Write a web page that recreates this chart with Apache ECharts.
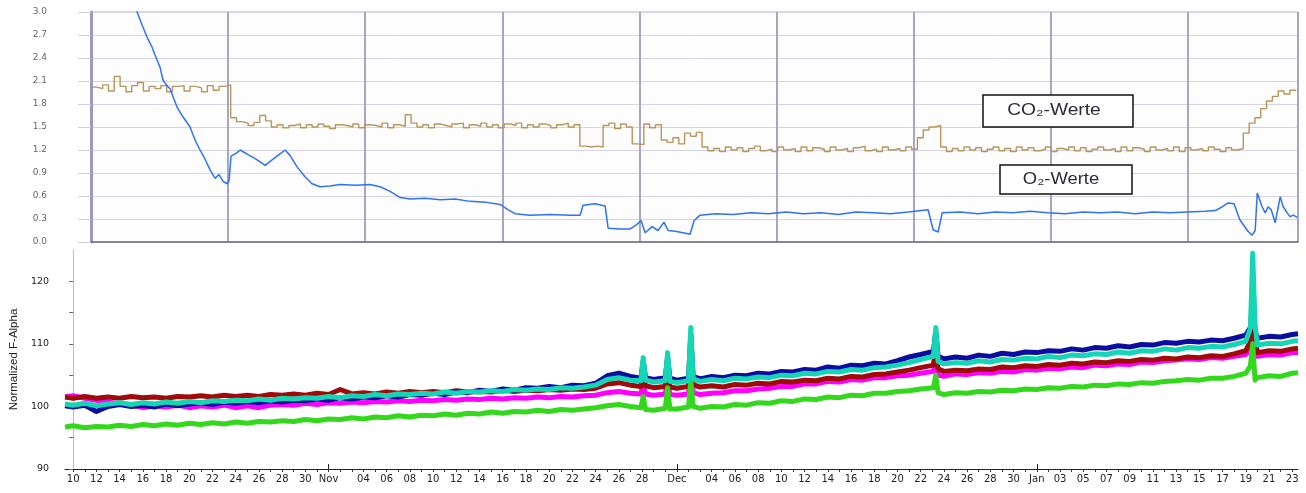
<!DOCTYPE html>
<html><head><meta charset="utf-8">
<script src="https://cdn.jsdelivr.net/npm/echarts@6/dist/echarts.min.js"></script>
<style>html,body{margin:0;padding:0;background:#fff}#c{width:1306px;height:493px}</style>
</head><body><div id="c"></div>
<script>
// ---------- bottom chart (Normalized F-Alpha), x = days since 10 Oct ----------
const days = [-0.7,
 0,1,2,3,4,5,6,7,8,9,
 10,11,12,13,14,15,16,17,18,19,
 20,21,22,23,24,25,26,27,28,29,
 30,31,32,33,34,35,36,37,38,39,
 40,41,42,43,44,45,46,47,48,
 48.9,49.1,49.3,50,51,51.2,51.4,52,53,53.2,53.4,
 54,55,56,57,58,59,60,61,62,63,64,65,66,67,68,69,70,71,72,73,
 74.1,74.3,74.5,
 75,76,77,78,79,80,81,82,83,84,85,86,87,88,89,90,91,92,93,94,95,96,97,98,99,100,101,
 101.4,101.6,101.8,
 102,103,104,105,105.5];

const navy = [100.1,
 99.9,100.2,99.2,100.0,100.3,100.0,100.2,99.9,100.4,100.1,
 100.4,100.6,100.3,100.7,100.5,100.8,100.6,100.9,100.7,101.0,
 100.9,101.2,101.0,101.4,101.2,101.5,101.4,101.7,101.5,101.9,
 101.8,102.1,101.9,102.3,102.2,102.6,102.4,102.8,102.6,103.0,
 102.9,103.2,103.0,103.4,103.3,103.7,104.9,105.3,104.8,
 104.5,107.3,104.6,104.3,104.6,107.8,104.5,104.2,104.5,111.5,104.8,
 104.4,104.8,104.6,105.0,104.9,105.3,105.2,105.6,105.5,105.9,105.8,106.3,106.1,106.6,106.5,106.9,106.8,107.3,107.9,108.3,
 108.8,112.0,108.0,
 107.6,107.9,107.7,108.2,108.0,108.5,108.3,108.7,108.6,108.9,108.8,109.2,109.0,109.4,109.3,109.7,109.5,109.9,109.8,110.2,110.1,110.4,110.3,110.6,110.5,110.9,111.4,
 112.6,117.0,112.0,
 110.9,111.2,111.1,111.5,111.6];

const teal = [100.4,
 100.2,100.5,100.1,100.4,100.6,100.3,100.6,100.4,100.7,100.5,
 100.8,100.6,100.9,100.8,101.0,100.9,101.2,101.0,101.3,101.2,
 101.4,101.3,101.6,101.4,101.7,101.6,101.9,101.7,102.0,101.9,
 102.1,102.0,102.3,102.1,102.4,102.3,102.5,102.4,102.7,102.6,
 102.8,102.7,103.0,102.9,103.1,103.4,104.3,104.6,104.2,
 104.1,107.8,104.2,103.9,104.1,108.6,104.0,103.8,104.1,112.6,104.4,
 104.0,104.3,104.1,104.5,104.4,104.7,104.6,105.0,104.9,105.3,105.2,105.6,105.5,105.9,105.8,106.2,106.3,106.6,107.0,107.5,
 108.0,112.6,107.2,
 106.8,107.0,106.9,107.3,107.1,107.5,107.4,107.7,107.6,108.0,107.8,108.2,108.1,108.4,108.3,108.7,108.5,108.9,108.8,109.2,109.0,109.4,109.3,109.6,109.5,109.9,110.4,
 112.5,124.5,113.0,
 109.8,110.1,110.0,110.4,110.5];

const red = [101.5,
 101.3,101.6,101.3,101.5,101.3,101.6,101.4,101.5,101.3,101.6,
 101.5,101.7,101.5,101.8,101.6,101.8,101.6,101.9,101.8,102.0,
 101.8,102.1,101.9,102.7,102.0,102.2,102.0,102.3,102.1,102.4,
 102.2,102.4,102.2,102.5,102.3,102.4,102.3,102.6,102.4,102.6,
 102.5,102.7,102.6,102.8,102.7,102.9,103.6,103.8,103.4,
 103.2,106.0,103.3,103.0,103.2,106.5,103.1,102.9,103.2,109.5,103.5,
 103.1,103.3,103.1,103.5,103.4,103.7,103.6,104.0,103.9,104.2,104.1,104.5,104.4,104.8,104.7,105.1,105.2,105.5,105.8,106.2,
 106.6,110.0,106.0,
 105.6,105.8,105.7,106.0,105.9,106.3,106.2,106.5,106.4,106.7,106.6,106.9,106.8,107.1,107.0,107.3,107.2,107.5,107.4,107.7,107.6,107.9,107.8,108.1,108.0,108.4,108.9,
 110.5,113.4,111.0,
 108.6,108.9,108.8,109.2,109.3];

const magenta = [101.5,
 101.7,101.3,101.0,100.7,100.4,100.2,99.8,100.1,99.9,100.2,
 99.8,100.1,99.9,100.2,99.8,100.1,99.8,100.2,100.3,100.2,
 100.5,100.3,100.6,100.5,100.7,100.6,100.8,100.7,100.9,100.8,
 101.0,100.9,101.1,101.0,101.2,101.1,101.3,101.2,101.4,101.3,
 101.5,101.4,101.6,101.5,101.7,101.8,102.2,102.4,102.1,
 102.0,103.8,102.0,101.8,102.0,104.2,101.9,101.8,102.0,106.0,102.2,
 101.9,102.1,102.2,102.5,102.5,102.8,102.9,103.2,103.2,103.6,103.6,104.0,103.9,104.3,104.2,104.6,104.6,104.9,105.0,105.3,
 105.6,107.8,105.0,
 104.8,105.2,105.1,105.4,105.3,105.6,105.5,105.9,105.8,106.1,106.0,106.3,106.2,106.6,106.5,106.8,106.7,107.1,107.0,107.3,107.4,107.6,107.5,107.8,107.7,108.0,108.3,
 109.2,111.0,108.8,
 108.0,108.3,108.2,108.6,108.6];

const green = [96.7,
 96.9,96.6,96.8,96.7,97.0,96.8,97.1,96.9,97.2,97.0,
 97.3,97.1,97.4,97.2,97.5,97.3,97.6,97.5,97.7,97.6,
 97.9,97.7,98.0,97.9,98.2,98.0,98.3,98.2,98.5,98.3,
 98.6,98.5,98.8,98.6,98.9,98.8,99.1,98.9,99.2,99.1,
 99.4,99.2,99.5,99.4,99.6,99.8,100.1,100.3,100.0,
 99.8,101.6,99.5,99.4,99.7,103.0,99.6,99.6,99.9,104.3,100.0,
 99.7,100.0,99.9,100.3,100.2,100.6,100.5,100.9,100.8,101.2,101.1,101.5,101.4,101.8,101.7,102.1,102.1,102.4,102.5,102.8,
 103.0,105.0,102.2,
 101.9,102.2,102.1,102.4,102.3,102.6,102.5,102.8,102.7,103.0,102.9,103.2,103.1,103.4,103.3,103.6,103.5,103.8,103.7,104.0,104.1,104.3,104.2,104.5,104.5,104.8,105.3,
 106.5,110.0,104.2,
 104.6,104.9,104.8,105.3,105.4];

// x-axis tick labels (days since 10 Oct -> text)
const xLabelDays  = [0,2,4,6,8,10,12,14,16,18,20,22,
  25,27,29,31,33,35,37,39,41,43,45,47,49,52,
  55,57,59,61,63,65,67,69,71,73,75,77,79,81,83,
  85,87,89,91,93,95,97,99,101,103,105];
const xLabelTexts = ['10','12','14','16','18','20','22','24','26','28','30','Nov',
  '04','06','08','10','12','14','16','18','20','22','24','26','28','Dec',
  '04','06','08','10','12','14','16','18','20','22','24','26','28','30','Jan',
  '03','05','07','09','11','13','15','17','19','21','23'];
const monthStartDays = [22, 52, 83];
const yTicksBottom = [90, 100, 110, 120];

// ---------- top chart (gas values), x = days since 10 Oct ----------
const co2StartDay = 1.8, co2StepDays = 0.5;
const co2 = [
 2.02,2.00,2.05,1.97,2.16,2.03,1.96,2.04,2.08,1.97,2.03,2.00,
 2.04,1.96,2.03,2.04,1.97,2.03,2.01,1.96,2.04,1.98,2.03,2.05,
 1.62,1.57,1.55,1.52,1.56,1.65,1.58,1.50,1.53,1.49,
 1.52,1.54,1.49,1.53,1.50,1.54,1.51,1.48,1.53,1.52,
 1.50,1.54,1.49,1.53,1.52,1.50,1.55,1.49,1.53,1.51,
 1.66,1.55,1.50,1.53,1.49,1.54,1.52,1.50,1.54,1.55,
 1.49,1.53,1.51,1.55,1.50,1.53,1.49,1.54,1.52,1.55,
 1.49,1.53,1.50,1.54,1.52,1.49,1.53,1.55,1.50,1.53,
 1.25,1.24,1.25,1.24,
 1.52,1.55,1.48,1.54,1.50,
 1.28,1.27,
 1.54,1.49,1.53,
 1.33,1.30,1.36,1.28,
 1.42,1.38,1.43,
 1.24,1.19,1.22,1.18,1.24,1.20,1.23,1.18,1.22,1.25,
 1.19,1.21,1.18,1.24,1.20,1.22,1.18,1.24,1.19,1.23,
 1.21,1.18,1.24,1.20,1.22,1.18,1.23,1.25,1.19,1.21,
 1.18,1.24,1.20,1.22,1.19,1.24,1.21,
 1.36,1.46,1.50,1.52,
 1.24,1.18,1.22,1.19,1.24,1.20,1.23,1.18,1.21,1.24,
 1.19,1.22,1.18,1.24,1.20,1.23,1.19,1.21,1.24,1.18,
 1.22,1.20,1.24,1.19,1.23,1.18,1.21,1.24,1.20,1.22,
 1.18,1.24,1.19,1.23,1.21,1.18,1.24,1.20,1.22,1.19,
 1.24,1.18,1.23,1.20,1.22,1.19,1.24,1.21,1.18,1.23,
 1.20,
 1.22,1.42,1.55,1.62,1.74,1.84,1.90,1.97,1.93,1.98,1.97];

const o2Days = [5.16,5.76,6.19,6.62,7.05,7.3,7.73,7.99,8.33,8.59,9.19,9.71,10.31,10.74,11.17,11.6,12.03,12.46,12.8,13.15,13.49,13.66,
 13.83,14.3,14.61,15.29,15.98,16.76,17.36,18.04,18.47,18.9,19.5,20.19,20.79,21.48,22.34,23.2,24.49,25.78,26.64,27.5,28.36,29.21,
 30.5,31.79,33.08,34.37,35.66,36.95,37.64,38.24,39.53,41.24,42.96,43.82,44.08,45.11,45.97,46.23,47.26,48.12,48.63,49.06,49.41,
 50.01,50.52,51.03,51.38,51.98,52.67,53.27,53.62,54.13,55.5,57,58.5,60,61.5,63,64.5,66,67.5,69,70.5,72,73.72,74.15,74.58,74.93,
 76.5,78,79.5,81,82.5,84,85.5,87,88.5,90,91.5,93,94.5,96,97.5,98.4,99.0,99.5,100.0,100.5,101.2,101.56,101.82,102.0,102.42,
 102.68,102.94,103.2,103.54,103.97,104.23,104.57,104.83,105.09,105.43];
const o2Vals = [3.28,3.0,2.83,2.67,2.54,2.44,2.28,2.11,2.04,2.0,1.76,1.63,1.5,1.33,1.2,1.08,0.94,0.83,0.88,0.79,0.76,0.8,
 1.12,1.16,1.2,1.14,1.08,1.0,1.07,1.15,1.2,1.13,0.98,0.85,0.76,0.72,0.73,0.75,0.74,0.75,0.72,0.66,0.58,0.56,
 0.57,0.55,0.56,0.53,0.52,0.49,0.42,0.37,0.35,0.36,0.35,0.35,0.48,0.5,0.47,0.18,0.17,0.17,0.22,0.28,0.12,
 0.2,0.15,0.26,0.15,0.14,0.12,0.1,0.28,0.35,0.37,0.36,0.38,0.37,0.39,0.37,0.38,0.36,0.39,0.38,0.37,0.39,0.42,0.16,0.13,0.38,
 0.39,0.37,0.39,0.38,0.4,0.38,0.37,0.39,0.38,0.39,0.37,0.39,0.38,0.39,0.4,0.41,0.46,0.51,0.5,0.29,0.14,0.09,0.15,0.64,0.46,
 0.38,0.46,0.42,0.25,0.59,0.46,0.38,0.33,0.35,0.32];
const topYLabels = ['0.0','0.3','0.6','0.9','1.2','1.5','1.8','2.1','2.4','2.7','3.0'];

// top panel: vertical grid every TOP_DAYS_PER_LINE days starting at TOP_START_DAY
const TOP_START_DAY = 1.8, TOP_DAYS_PER_LINE = 11.78, LAST_DAY = 105.5;
const topU = d => (d - TOP_START_DAY) / TOP_DAYS_PER_LINE;

const chart = echarts.init(document.getElementById('c'), null, {renderer: 'canvas'});
const labelMap = {};
xLabelDays.forEach((d, i) => { labelMap[d] = xLabelTexts[i]; });
const dailyTicks = [];
for (let d = 0; d <= 105; d++) dailyTicks.push(d);

const pair = arr => days.map((d, i) => [d, arr[i]]);
const bottomSeries = (name, arr, color, w) => ({
  name, type: 'line', xAxisIndex: 1, yAxisIndex: 1, data: pair(arr),
  showSymbol: false, symbol: 'none', silent: true, animation: false,
  lineStyle: {color, width: w, join: 'round'}
});

const option = {
  backgroundColor: '#ffffff',
  animation: false,
  grid: [
    {left: 91, right: 8, top: 12, height: 230, show: true, borderColor: '#b4b4cc', borderWidth: 1, backgroundColor: '#fdfdfe'},
    {left: 62, right: 8, top: 250, height: 219}
  ],
  xAxis: [
    {type: 'value', gridIndex: 0, min: 0, max: topU(LAST_DAY), interval: 1,
     axisLabel: {show: false}, axisTick: {show: false},
     axisLine: {show: true, lineStyle: {color: '#6a6a7a', width: 1.5}},
     splitLine: {show: true, lineStyle: {color: '#a6a6c6', width: 2}}},
    {type: 'value', gridIndex: 1, min: -0.7, max: LAST_DAY,
     axisLine: {show: true, onZero: false, lineStyle: {color: '#222', width: 1}},
     axisTick: {show: true, customValues: dailyTicks, length: 3, lineStyle: {color: '#333'}},
     axisLabel: {show: true, customValues: xLabelDays, formatter: v => labelMap[v] || '',
       fontFamily: 'DejaVu Sans', fontSize: 10, color: '#222', margin: 5},
     splitLine: {show: false}},
    {type: 'value', gridIndex: 1, min: -0.7, max: LAST_DAY, position: 'bottom',
     axisLine: {show: false}, axisLabel: {show: false}, splitLine: {show: false},
     axisTick: {show: true, inside: true, customValues: monthStartDays, length: 5, lineStyle: {color: '#222'}}}
  ],
  yAxis: [
    {type: 'value', gridIndex: 0, min: 0, max: 3, interval: 0.3,
     axisLine: {show: true, lineStyle: {color: '#9a9abf', width: 3}},
     axisTick: {show: true, length: 13, lineStyle: {color: '#cfcfdf'}},
     axisLabel: {formatter: v => topYLabels[Math.round(v / 0.3)] || '', fontFamily: 'DejaVu Sans', fontSize: 9, color: '#666', margin: 44},
     splitLine: {show: true, lineStyle: {color: '#d4d4e4', width: 1}}},
    {type: 'value', gridIndex: 1, min: 90, max: 125,
     axisLine: {show: true, lineStyle: {color: '#8a8a8a', width: 1}},
     axisTick: {show: true, customValues: [90,95,100,105,110,115,120], length: 4, lineStyle: {color: '#666'}},
     axisLabel: {customValues: yTicksBottom, fontFamily: 'DejaVu Sans', fontSize: 9.5, color: '#222', margin: 16},
     splitLine: {show: false},
     name: 'Normalized F-Alpha', nameLocation: 'middle', nameGap: 40,
     nameTextStyle: {fontFamily: 'Liberation Sans', fontSize: 11.5, color: '#222'}},
    {type: 'value', gridIndex: 1, min: 90, max: 125, position: 'right',
     axisLine: {show: true, lineStyle: {color: '#bdbdbd', width: 1}},
     axisTick: {show: false}, axisLabel: {show: false}, splitLine: {show: false}}
  ],
  series: [
    {name: 'CO2', type: 'line', xAxisIndex: 0, yAxisIndex: 0, step: 'end',
     data: co2.map((v, i) => [topU(co2StartDay + i * co2StepDays), v]),
     showSymbol: false, symbol: 'none', silent: true, lineStyle: {color: '#b8955a', width: 1.4}},
    {name: 'O2', type: 'line', xAxisIndex: 0, yAxisIndex: 0,
     data: o2Days.map((d, i) => [topU(d), o2Vals[i]]),
     showSymbol: false, symbol: 'none', silent: true, lineStyle: {color: '#2f72f4', width: 1.5}},
    bottomSeries('magenta', magenta, '#ff00ff', 5),
    bottomSeries('red', red, '#a00a0a', 5),
    bottomSeries('green', green, '#33d81c', 5),
    bottomSeries('navy', navy, '#0c0ca0', 5),
    bottomSeries('teal', teal, '#14d6b4', 5)
  ],
  graphic: [
    {type: 'rect', shape: {x: 983, y: 95, width: 150, height: 32}, style: {fill: '#fff', stroke: '#111', lineWidth: 1.5}, z: 100},
    {type: 'text', x: 1054, y: 111, scaleX: 1.2, z: 101,
     style: {text: 'CO\u2082-Werte', x: 0, y: 0, align: 'center', verticalAlign: 'middle', font: '16px "Liberation Sans"', fill: '#2a2a3a'}},
    {type: 'rect', shape: {x: 1000, y: 165, width: 132, height: 29}, style: {fill: '#fff', stroke: '#111', lineWidth: 1.5}, z: 100},
    {type: 'text', x: 1061, y: 180, scaleX: 1.15, z: 101,
     style: {text: 'O\u2082-Werte', x: 0, y: 0, align: 'center', verticalAlign: 'middle', font: '16px "Liberation Sans"', fill: '#2a2a3a'}}
  ]
};
chart.setOption(option);
</script></body></html>
